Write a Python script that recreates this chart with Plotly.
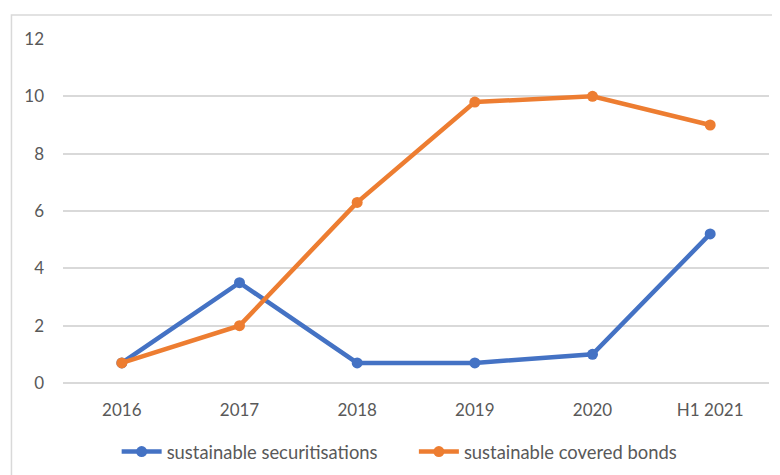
import plotly.graph_objects as go

categories = ["2016", "2017", "2018", "2019", "2020", "H1 2021"]
securitisations = [0.7, 3.5, 0.7, 0.7, 1.0, 5.2]
covered_bonds = [0.7, 2.0, 6.3, 9.8, 10.0, 9.0]
y_ticks = [0, 2, 4, 6, 8, 10, 12]

fig = go.Figure()
fig.add_trace(go.Scatter(
    x=categories, y=securitisations, name="sustainable securitisations",
    mode="lines+markers", line=dict(color="#4472C4", width=4.5),
    marker=dict(size=11, color="#4472C4"), legend="legend"))
fig.add_trace(go.Scatter(
    x=categories, y=covered_bonds, name="sustainable covered bonds",
    mode="lines+markers", line=dict(color="#ED7D31", width=4.5),
    marker=dict(size=11, color="#ED7D31"), legend="legend2"))

leg_common = dict(orientation="h", yref="container", y=0.105, yanchor="top",
                  xanchor="left", font=dict(size=18.4, color="#595959"),
                  itemwidth=40, bgcolor="rgba(0,0,0,0)")

fig.update_layout(
    width=780, height=475,
    margin=dict(l=55, r=19, t=31, b=100),
    paper_bgcolor="white", plot_bgcolor="white",
    font=dict(family="Lato, Open Sans, sans-serif", size=17, color="#595959"),
    showlegend=True,
    legend=dict(x=0.076, **leg_common),
    legend2=dict(x=0.497, **leg_common),
    shapes=[dict(type="rect", xref="paper", yref="paper",
                 x0=-0.073, x1=1.2, y0=-0.5, y1=1.07,
                 line=dict(color="#D9D9D9", width=1.5), layer="below")],
)
fig.update_xaxes(type="category", showgrid=False, showline=False, ticks="",
                 ticklabelstandoff=15, range=[-0.5, 5.5])
fig.update_yaxes(range=[0, 12], tickvals=y_ticks, showgrid=True,
                 gridcolor="#D9D9D9", gridwidth=1.5, zeroline=True,
                 zerolinecolor="#D9D9D9", zerolinewidth=1.5,
                 showline=False, ticks="", ticklabelstandoff=18)

fig.write_html("out.html")
